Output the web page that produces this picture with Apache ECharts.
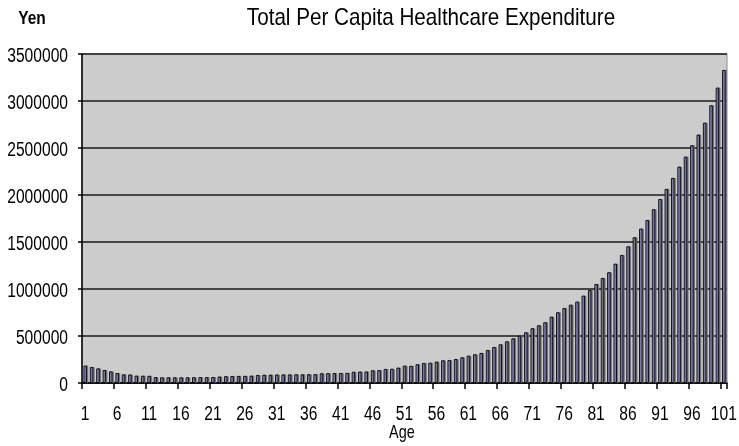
<!DOCTYPE html>
<html>
<head>
<meta charset="utf-8">
<script src="https://cdn.jsdelivr.net/npm/echarts@6/dist/echarts.min.js"></script>
<style>
html,body{margin:0;padding:0;background:#fff;}
#chart{width:739px;height:446px;}
</style>
</head>
<body>
<div id="chart"></div>
<script>
var ages = [];
for (var a = 1; a <= 101; a++) ages.push(String(a));

var expenditure = [
  185000, 170000, 155000, 138000, 123000, 106000, 92000, 90000, 78000, 77000,
  76000, 62000, 60000, 60000, 60000, 60000, 60000, 61000, 62000, 62000,
  63000, 68000, 72000, 74000, 75000, 76000, 78000, 85000, 87000, 88000,
  90000, 91000, 91000, 92000, 92000, 93000, 94000, 103000, 104000, 105000,
  106000, 107000, 119000, 121000, 122000, 135000, 137000, 149000, 151000, 163000,
  184000, 182000, 199000, 213000, 215000, 227000, 241000, 243000, 255000, 273000,
  290000, 305000, 319000, 351000, 383000, 411000, 443000, 475000, 503000, 539000,
  582000, 614000, 646000, 705000, 752000, 798000, 833000, 865000, 929000, 989000,
  1053000, 1117000, 1178000, 1269000, 1362000, 1454000, 1550000, 1642000, 1734000, 1848000,
  1957000, 2064000, 2181000, 2301000, 2408000, 2529000, 2642000, 2769000, 2954000, 3142000,
  3330000
];

var yTickValues = [0, 500000, 1000000, 1500000, 2000000, 2500000, 3000000, 3500000];
var xLabelEvery = 5;

var titleText = 'Total Per Capita Healthcare Expenditure';
var unitText = 'Yen';
var xName = 'Age';

var FONT = '"Liberation Sans", Arial, sans-serif';
var SQUEEZE = 0.78;

var chart = echarts.init(document.getElementById('chart'), null, {renderer: 'canvas'});
chart.setOption({
  animation: false,
  backgroundColor: '#ffffff',
  grid: {left: 82, right: 12, top: 54, bottom: 63, show: true, containLabel: false,
         outerBoundsMode: 'none',
         backgroundColor: '#cccccc', borderColor: '#8a8a8a', borderWidth: 1},
  xAxis: {
    type: 'category',
    data: ages,
    boundaryGap: true,
    axisLine: {show: true, lineStyle: {color: '#000', width: 1.5}},
    axisTick: {show: true, interval: xLabelEvery - 1, length: 6, lineStyle: {color: '#000', width: 1.5}},
    axisLabel: {show: false},
    splitLine: {show: false}
  },
  yAxis: {
    type: 'value',
    min: 0, max: 3500000, interval: 500000,
    axisLine: {show: true, lineStyle: {color: '#000', width: 1.5}},
    axisTick: {show: true, length: 4, lineStyle: {color: '#000', width: 1.5}},
    axisLabel: {show: false},
    splitLine: {show: true, lineStyle: {color: '#1a1a1a', width: 1.5}}
  },
  series: [{
    type: 'bar',
    data: expenditure,
    barWidth: 3.4,
    itemStyle: {color: '#9a9aff', borderColor: '#000', borderWidth: 0.9,
                shadowColor: '#6e6e6e', shadowOffsetX: 1.3, shadowOffsetY: 0, shadowBlur: 0}
  }]
});

function squeezedText(str, x, y, size, align, weight, sx) {
  return {
    type: 'text', x: x, y: y, scaleX: sx || SQUEEZE, silent: true,
    style: {
      text: str, x: 0, y: 0,
      font: (weight || 'normal') + ' ' + size + 'px ' + FONT,
      fill: '#000', textAlign: align, textVerticalAlign: 'middle'
    }
  };
}

var g = [];
var zeroY = chart.convertToPixel({yAxisIndex: 0}, 0);
for (var i = 0; i < ages.length; i += xLabelEvery) {
  var px = chart.convertToPixel({xAxisIndex: 0}, i);
  g.push(squeezedText(ages[i], px, zeroY + 31, 20, 'center'));
}
var axisX = chart.convertToPixel({xAxisIndex: 0}, 0) - (chart.convertToPixel({xAxisIndex: 0}, 1) - chart.convertToPixel({xAxisIndex: 0}, 0)) / 2;
yTickValues.forEach(function (v) {
  var py = chart.convertToPixel({yAxisIndex: 0}, v);
  g.push(squeezedText(String(v), axisX - 14, py + 2.5, 20, 'right'));
});
var midX = (axisX + chart.convertToPixel({xAxisIndex: 0}, ages.length - 1)) / 2;
g.push(squeezedText(xName, midX - 1, zeroY + 50, 19, 'center', 'normal', 0.76));
g.push(squeezedText(titleText, 431, 18, 24, 'center', 'normal', 0.86));
g.push(squeezedText(unitText, 32, 19, 18, 'center', 'bold', 0.86));

chart.setOption({graphic: g});
</script>
</body>
</html>
